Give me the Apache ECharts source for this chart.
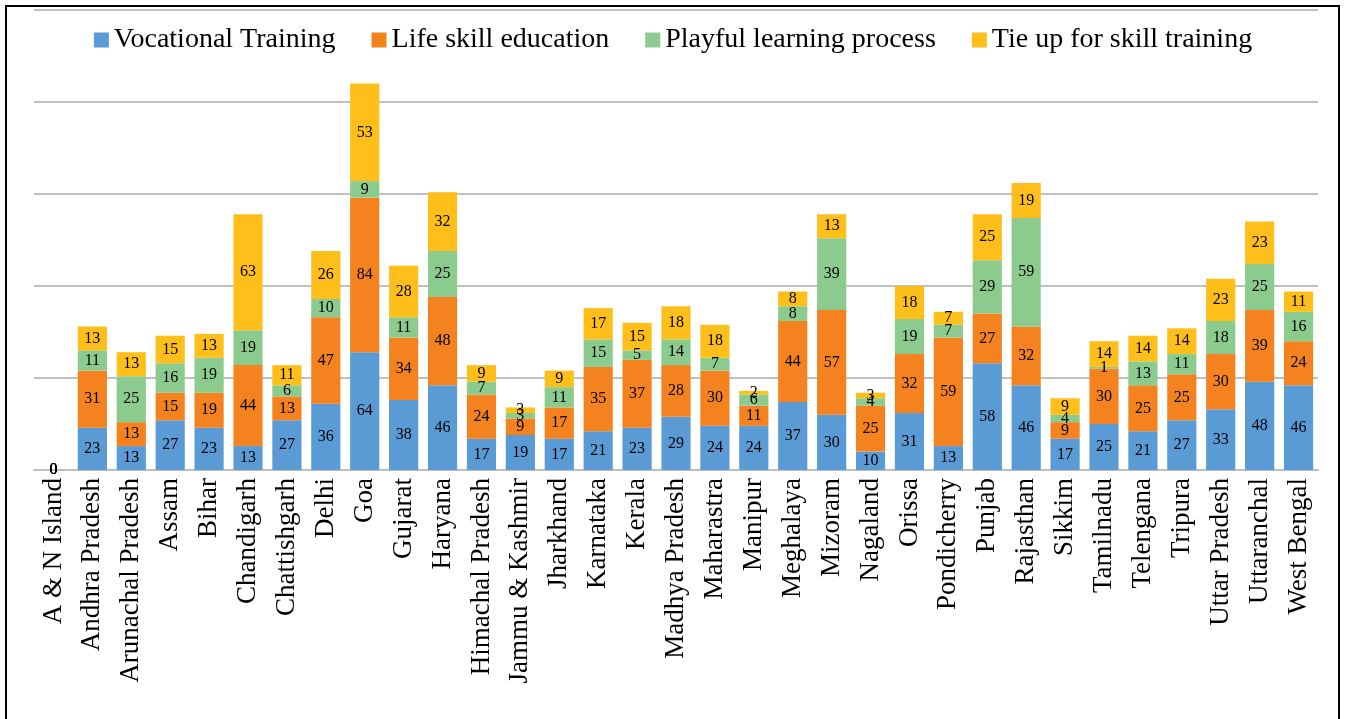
<!DOCTYPE html>
<html>
<head>
<meta charset="utf-8">
<script src="https://cdn.jsdelivr.net/npm/echarts@6/dist/echarts.min.js"></script>
<style>
    html, body { margin: 0; padding: 0; background: #fff; }
    #frame { position: absolute; left: 5px; top: 5px; width: 1335px; height: 740px; border: 2px solid #000; box-sizing: border-box; }
    #myChart { position: absolute; left: 0; top: 0; width: 1346px; height: 719px; }
</style>
</head>
<body>
<div id="frame"></div>
<div id="myChart"></div>
<script>
// states
var states = ['A & N Island', 'Andhra Pradesh', 'Arunachal Pradesh', 'Assam', 'Bihar', 'Chandigarh',
    'Chattishgarh', 'Delhi', 'Goa', 'Gujarat', 'Haryana', 'Himachal Pradesh', 'Jammu & Kashmir',
    'Jharkhand', 'Karnataka', 'Kerala', 'Madhya Pradesh', 'Maharastra', 'Manipur', 'Meghalaya',
    'Mizoram', 'Nagaland', 'Orissa', 'Pondicherry', 'Punjab', 'Rajasthan', 'Sikkim', 'Tamilnadu',
    'Telengana', 'Tripura', 'Uttar Pradesh', 'Uttaranchal', 'West Bengal'];
var vocational = [0, 23, 13, 27, 23, 13, 27, 36, 64, 38, 46, 17, 19, 17, 21, 23, 29, 24, 24, 37, 30, 10, 31, 13, 58, 46, 17, 25, 21, 27, 33, 48, 46];
var lifeSkill  = [0, 31, 13, 15, 19, 44, 13, 47, 84, 34, 48, 24, 9, 17, 35, 37, 28, 30, 11, 44, 57, 25, 32, 59, 27, 32, 9, 30, 25, 25, 30, 39, 24];
var playful    = [0, 11, 25, 16, 19, 19, 6, 10, 9, 11, 25, 7, 3, 11, 15, 5, 14, 7, 6, 8, 39, 4, 19, 7, 29, 59, 4, 1, 13, 11, 18, 25, 16];
var tieUp      = [0, 13, 13, 15, 13, 63, 11, 26, 53, 28, 32, 9, 3, 9, 17, 15, 18, 18, 2, 8, 13, 3, 18, 7, 25, 19, 9, 14, 14, 14, 23, 23, 11];
var seriesNames = ['Vocational Training', 'Life skill education', 'Playful learning process', 'Tie up for skill training'];

var myChart = echarts.init(document.getElementById('myChart'));

function makeSeries(name, data, color) {
    return {
        name: name,
        type: 'bar',
        stack: 'total',
        barWidth: '75%',
        itemStyle: { color: color },
        label: {
            show: true,
            position: 'inside',
            color: '#000',
            fontFamily: 'Liberation Serif',
            fontSize: 16,
            textBorderWidth: 0
        },
        data: data
    };
}

myChart.setOption({
    animation: false,
    textStyle: { fontFamily: 'Liberation Serif' },
    legend: {
        top: 21,
        left: 'center',
        itemWidth: 15,
        itemHeight: 15,
        itemGap: 36,
        icon: 'rect',
        textStyle: { fontFamily: 'Liberation Serif', fontSize: 28, color: '#000' },
        data: seriesNames
    },
    grid: { left: 34, right: 28, top: 10, bottom: 249 },
    xAxis: {
        type: 'category',
        data: states,
        axisLine: { lineStyle: { color: '#bfbfbf', width: 2 } },
        axisTick: { show: false },
        axisLabel: {
            rotate: 90,
            interval: 0,
            margin: 8,
            color: '#000',
            fontFamily: 'Liberation Serif',
            fontSize: 27
        }
    },
    yAxis: {
        type: 'value',
        min: 0,
        max: 250,
        interval: 50,
        axisLine: { show: false },
        axisTick: { show: false },
        axisLabel: { show: false },
        splitLine: { lineStyle: { color: '#c0c0c0', width: 2 } }
    },
    series: [
        makeSeries(seriesNames[0], vocational, '#5b9bd5'),
        makeSeries(seriesNames[1], lifeSkill, '#f4821f'),
        makeSeries(seriesNames[2], playful, '#8ccb8e'),
        makeSeries(seriesNames[3], tieUp, '#ffbf1a')
    ]
});
</script>
</body>
</html>
